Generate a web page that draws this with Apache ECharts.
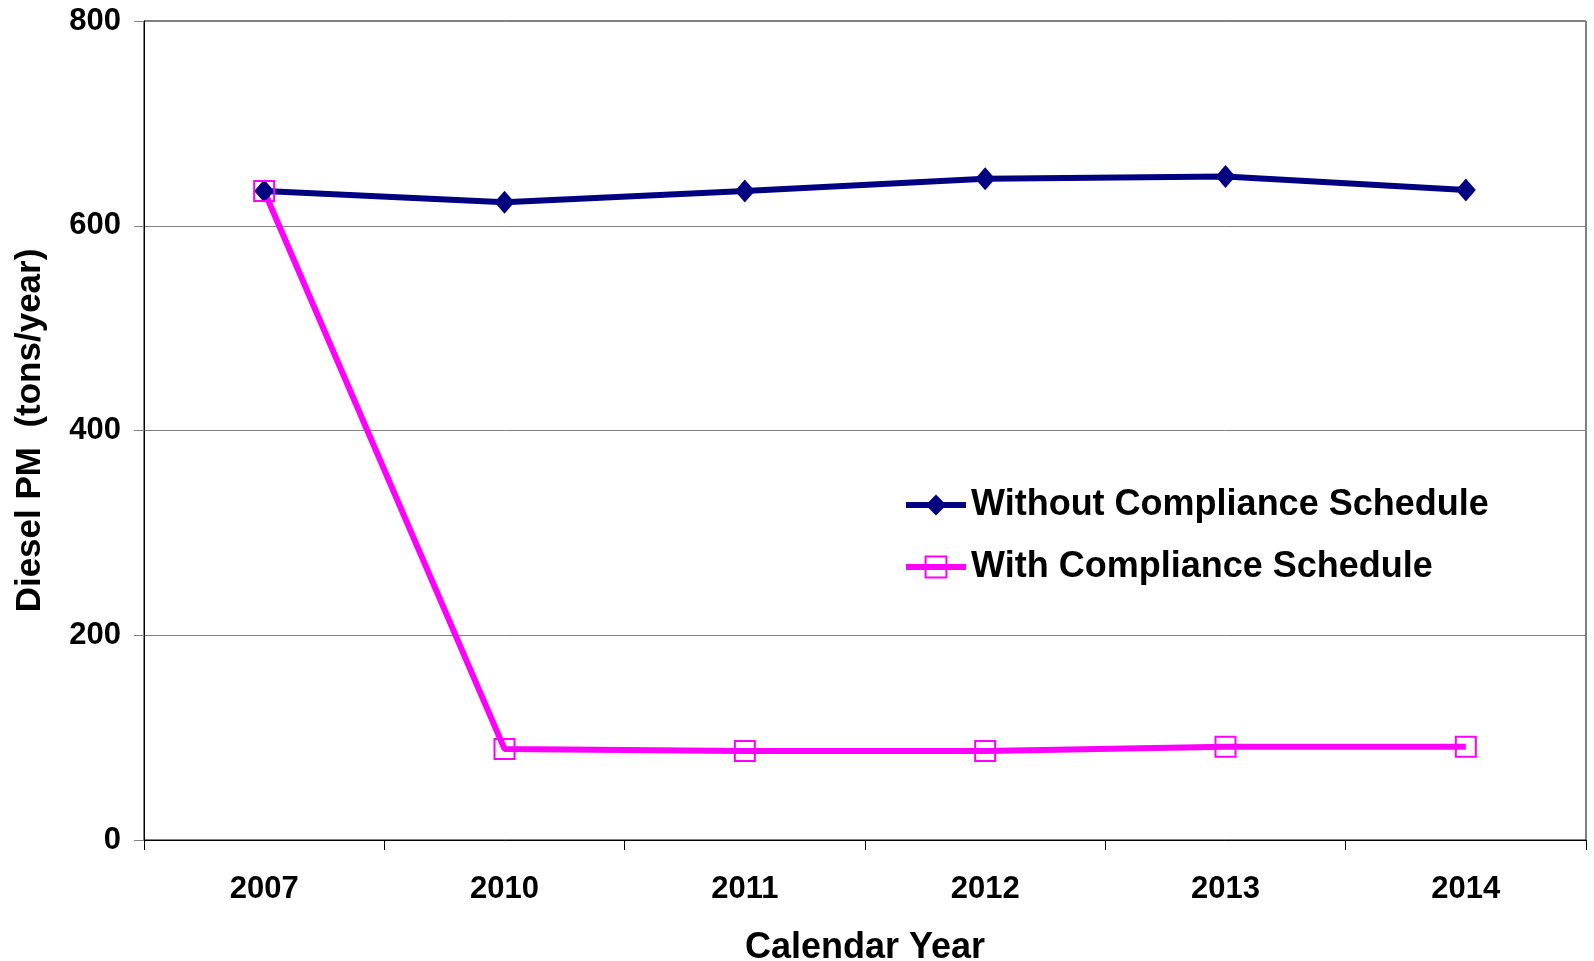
<!DOCTYPE html>
<html>
<head>
<meta charset="utf-8">
<script src="https://cdn.jsdelivr.net/npm/echarts@6/dist/echarts.min.js"></script>
<style>
  html, body { margin: 0; padding: 0; background: #fff; }
  #chart { width: 1594px; height: 961px; }
</style>
</head>
<body>
<div id="chart"></div>
<script>
var years = ['2007', '2010', '2011', '2012', '2013', '2014']
var withoutSchedule = [634, 623, 634, 646, 648, 635]
var withSchedule = [634, 89, 87, 87, 91, 91]
var yTicks = [0, 200, 400, 600, 800]

var font = '"Liberation Sans", Arial, sans-serif'

var myChart = echarts.init(document.getElementById('chart'))
var option = {
    animation: false,
    backgroundColor: '#fff',
    grid: {
        left: 144,
        right: 8,
        top: 21,
        bottom: 121,
        containLabel: false,
        outerBoundsMode: 'none',
        show: true,
        borderColor: '#000',
        borderWidth: 1
    },
    legend: {
        orient: 'vertical',
        left: 898,
        top: 482,
        itemWidth: 60,
        itemHeight: 26,
        itemGap: 26,
        lineStyle: { width: 6 },
        textStyle: {
            fontFamily: font,
            fontWeight: 'bold',
            fontSize: 36,
            color: '#000'
        },
        data: ['Without Compliance Schedule', 'With Compliance Schedule']
    },
    xAxis: {
        type: 'category',
        data: years,
        boundaryGap: true,
        name: 'Calendar Year',
        nameLocation: 'middle',
        nameGap: 90,
        nameTextStyle: {
            fontFamily: font,
            fontWeight: 'bold',
            fontSize: 36,
            color: '#000'
        },
        axisLine: { lineStyle: { color: '#000', width: 1 } },
        axisTick: { show: true, inside: false, length: 10, alignWithLabel: false, lineStyle: { color: '#000' } },
        axisLabel: {
            margin: 34,
            fontFamily: font,
            fontWeight: 'bold',
            fontSize: 31,
            color: '#000'
        },
        splitLine: { show: false }
    },
    yAxis: {
        type: 'value',
        min: yTicks[0],
        max: yTicks[yTicks.length - 1],
        interval: yTicks[1] - yTicks[0],
        name: 'Diesel PM  (tons/year)',
        nameLocation: 'middle',
        nameGap: 96,
        nameTextStyle: {
            fontFamily: font,
            fontWeight: 'bold',
            fontSize: 35,
            color: '#000'
        },
        axisLine: { show: true, lineStyle: { color: '#000', width: 1 } },
        axisTick: { show: true, inside: false, length: 10, lineStyle: { color: '#808080' } },
        axisLabel: {
            margin: 23,
            fontFamily: font,
            fontWeight: 'bold',
            fontSize: 31,
            color: '#000'
        },
        splitLine: { show: true, lineStyle: { color: '#808080', width: 1 } }
    },
    series: [
        {
            name: 'Without Compliance Schedule',
            type: 'line',
            data: withoutSchedule,
            symbol: 'diamond',
            symbolSize: [20, 23],
            lineStyle: { color: '#000080', width: 6 },
            itemStyle: { color: '#000080' }
        },
        {
            name: 'With Compliance Schedule',
            type: 'line',
            data: withSchedule,
            symbol: 'rect',
            symbolSize: 20,
            lineStyle: { color: '#FF00FF', width: 6 },
            itemStyle: { color: 'none', borderColor: '#FF00FF', borderWidth: 2 }
        }
    ]
}
myChart.setOption(option, true)
</script>
</body>
</html>
